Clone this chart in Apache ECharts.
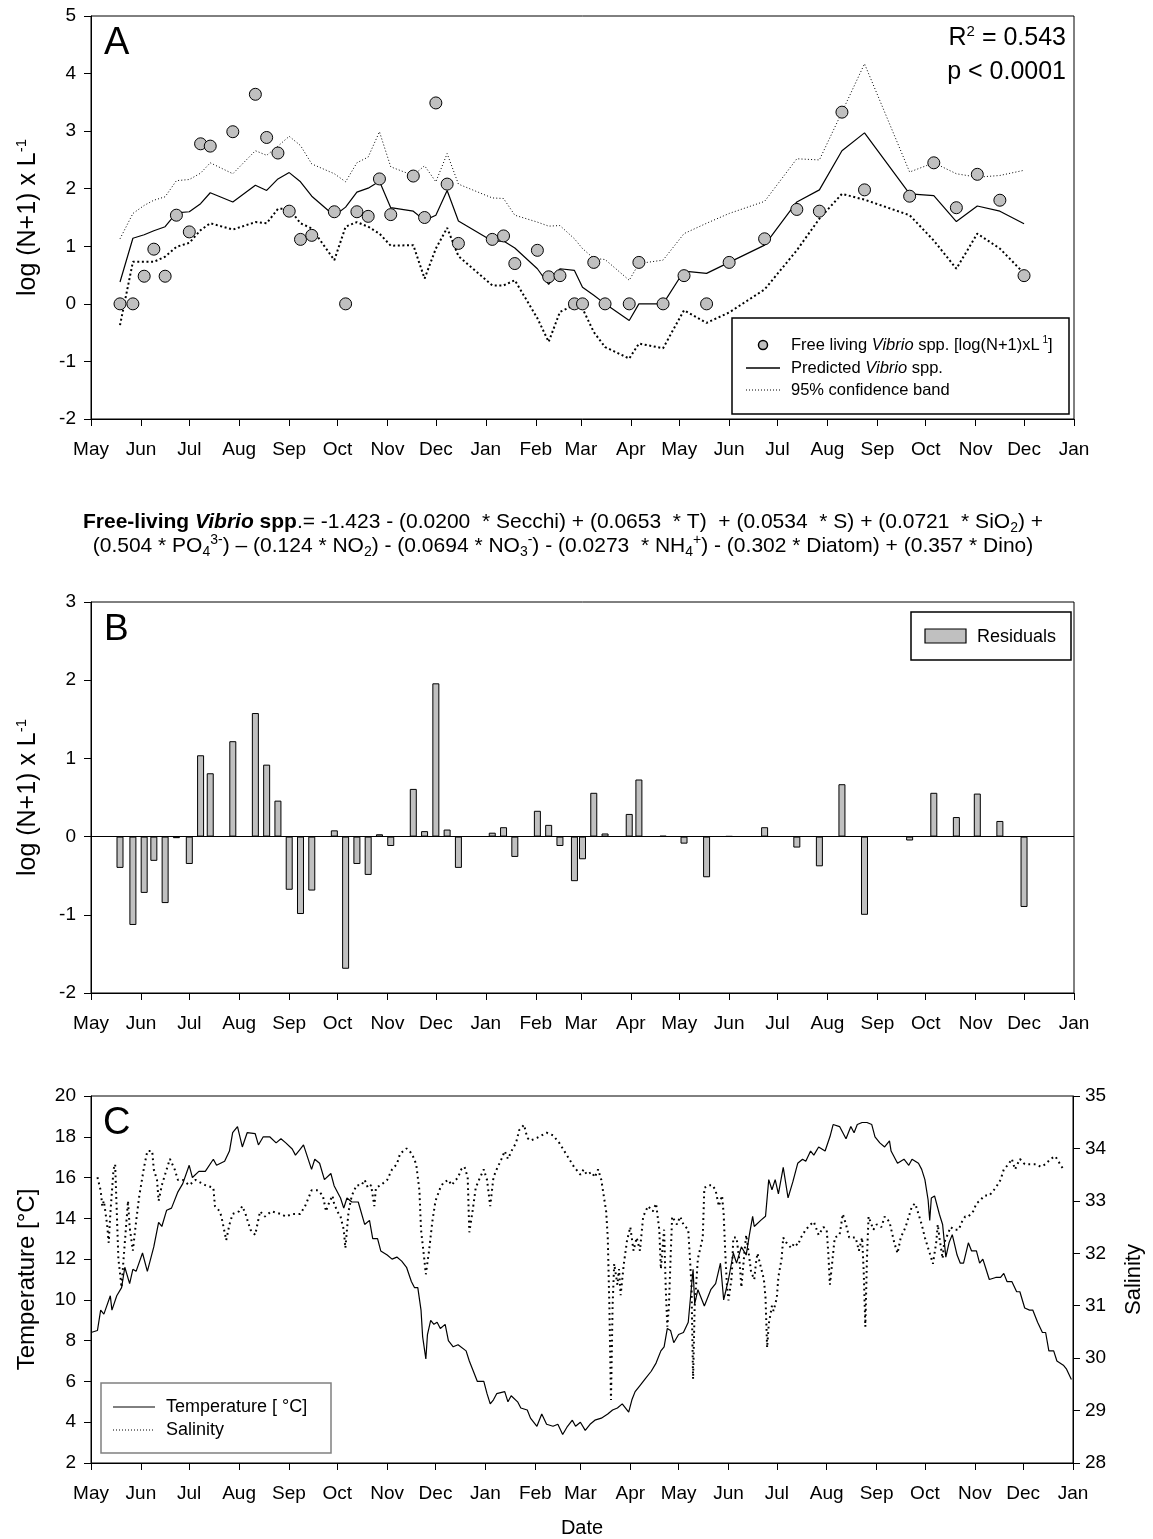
<!DOCTYPE html>
<html>
<head>
<meta charset="utf-8">
<script src="https://cdn.jsdelivr.net/npm/echarts@6/dist/echarts.min.js"></script>
<style>
html,body{margin:0;padding:0;background:#fff;}
#chart{width:1153px;height:1539px;}
</style>
</head>
<body>
<div id="chart"></div>
<script>
// ---------------- DATA ----------------
const monthNames = ['Jan','Feb','Mar','Apr','May','Jun','Jul','Aug','Sep','Oct','Nov','Dec'];
const axisStart = '2009-05-01';
const axisEnd = '2011-01-01';

const sampleDates = ['2009-05-19','2009-05-27','2009-06-03','2009-06-09','2009-06-16','2009-06-23','2009-07-01','2009-07-08','2009-07-14','2009-07-28','2009-08-11','2009-08-18','2009-08-25','2009-09-01','2009-09-08','2009-09-15','2009-09-29','2009-10-06','2009-10-13','2009-10-20','2009-10-27','2009-11-03','2009-11-17','2009-11-24','2009-12-01','2009-12-08','2009-12-15',
'2010-01-05','2010-01-12','2010-01-19','2010-02-02','2010-02-09','2010-02-16','2010-02-25','2010-03-02','2010-03-09','2010-03-16','2010-03-31','2010-04-06','2010-04-21','2010-05-04','2010-05-18','2010-06-01','2010-06-23','2010-07-13','2010-07-27','2010-08-10','2010-08-24','2010-09-21','2010-10-06','2010-10-20','2010-11-02','2010-11-16','2010-12-01'];

const observed = [0,0,0.48,0.95,0.48,1.54,1.25,2.78,2.74,2.99,3.64,2.89,2.62,1.61,1.12,1.19,1.6,0,1.6,1.52,2.17,1.55,2.22,1.5,3.49,2.08,1.05,
1.12,1.18,0.7,0.93,0.47,0.49,0,0,0.72,0,0,0.72,0,0.49,0,0.72,1.13,1.64,1.61,3.33,1.98,1.87,2.45,1.67,2.25,1.8,0.49];

const predicted = [0.38,1.14,1.2,1.27,1.34,1.58,1.6,1.74,1.93,1.77,2.06,1.97,2.17,2.28,2.12,1.87,1.53,1.68,1.94,2.01,2.13,1.67,1.61,1.45,1.54,1.97,1.44,
1.09,1.09,0.97,0.61,0.34,0.61,0.58,0.29,0.15,0.0,-0.29,0,0,0.57,0.53,0.72,1.02,1.77,1.98,2.66,2.97,1.91,1.88,1.43,1.7,1.61,1.39];

const upper95 = [1.13,1.57,1.71,1.8,1.86,2.14,2.16,2.27,2.45,2.26,2.66,2.58,2.74,2.91,2.75,2.43,2.26,2.12,2.45,2.55,2.99,2.38,2.23,2.4,2.12,2.61,2.08,
1.84,1.83,1.54,1.42,1.35,1.36,1.13,0.96,0.79,0.77,0.41,0.7,0.76,1.22,1.4,1.57,1.78,2.52,2.5,3.33,4.17,2.29,2.45,2.26,2.2,2.23,2.32];

const lower95 = [-0.37,0.73,0.73,0.73,0.82,0.99,1.06,1.28,1.4,1.29,1.42,1.4,1.65,1.65,1.4,1.31,0.76,1.34,1.42,1.34,1.22,1.01,1.02,0.44,0.96,1.32,0.83,
0.32,0.32,0.41,-0.25,-0.66,-0.14,-0.02,-0.08,-0.49,-0.75,-0.95,-0.69,-0.77,-0.11,-0.33,-0.15,0.25,0.93,1.48,1.91,1.81,1.54,1.1,0.61,1.22,0.96,0.53];

const residuals = [-0.40,-1.13,-0.72,-0.31,-0.85,-0.02,-0.35,1.04,0.81,1.22,1.58,0.92,0.46,-0.68,-0.99,-0.69,0.08,-1.69,-0.35,-0.49,0.03,-0.12,0.61,0.07,1.96,0.09,-0.40,
0.05,0.12,-0.26,0.33,0.15,-0.12,-0.57,-0.29,0.56,0.04,0.29,0.73,0.01,-0.09,-0.52,0.005,0.12,-0.14,-0.38,0.67,-1.0,-0.05,0.56,0.25,0.55,0.2,-0.9];

const tempData = [['2009-05-01',8.4],['2009-05-05',8.5],['2009-05-07',9.5],['2009-05-09',9.3],['2009-05-13',10.2],['2009-05-14',9.5],['2009-05-17',10.2],['2009-05-20',10.6],['2009-05-22',11.6],['2009-05-25',10.8],['2009-05-27',11.5],['2009-05-29',11.4],['2009-06-02',12.3],['2009-06-05',11.4],['2009-06-09',12.6],['2009-06-12',13.8],['2009-06-14',13.6],['2009-06-17',14.4],['2009-06-20',14.5],['2009-06-24',15.3],['2009-06-27',15.7],['2009-07-01',16.6],['2009-07-03',16.0],['2009-07-07',16.3],['2009-07-11',16.3],['2009-07-16',16.9],['2009-07-18',16.6],['2009-07-23',16.8],['2009-07-26',17.3],['2009-07-28',18.2],['2009-07-31',18.5],['2009-08-01',18.5],['2009-08-03',17.5],['2009-08-06',18.2],['2009-08-11',18.15],['2009-08-13',17.6],['2009-08-16',18.0],['2009-08-20',18.0],['2009-08-24',17.7],['2009-08-27',17.9],['2009-08-30',17.7],['2009-09-03',17.4],['2009-09-05',17.1],['2009-09-08',17.4],['2009-09-10',17.6],['2009-09-15',16.4],['2009-09-17',16.9],['2009-09-20',16.7],['2009-09-23',15.9],['2009-09-27',16.2],['2009-09-29',15.6],['2009-10-03',15.0],['2009-10-05',14.5],['2009-10-07',15.0],['2009-10-10',14.8],['2009-10-14',14.8],['2009-10-18',13.7],['2009-10-21',13.9],['2009-10-23',13.0],['2009-10-26',13.0],['2009-10-28',12.4],['2009-11-01',12.2],['2009-11-04',12.0],['2009-11-07',12.1],['2009-11-10',11.9],['2009-11-13',11.6],['2009-11-16',10.9],['2009-11-18',10.6],['2009-11-20',10.6],['2009-11-22',9.5],['2009-11-23',8.2],['2009-11-25',7.1],['2009-11-26',8.3],['2009-11-28',9.0],['2009-11-30',8.8],['2009-12-02',8.9],['2009-12-04',8.6],['2009-12-07',8.8],['2009-12-09',8.0],['2009-12-12',7.7],['2009-12-15',7.8],['2009-12-20',7.5],['2009-12-22',7.0],['2009-12-25',6.4],['2009-12-27',6.0],['2009-12-31',6.0],['2010-01-02',5.4],['2010-01-04',4.9],['2010-01-06',5.1],['2010-01-08',5.4],['2010-01-13',5.5],['2010-01-15',5.0],['2010-01-17',5.3],['2010-01-21',5.0],['2010-01-23',4.7],['2010-01-27',4.6],['2010-01-29',4.2],['2010-02-02',3.8],['2010-02-05',4.4],['2010-02-08',3.9],['2010-02-12',3.8],['2010-02-15',3.9],['2010-02-18',3.4],['2010-02-21',3.8],['2010-02-24',4.1],['2010-02-26',3.8],['2010-03-01',4.0],['2010-03-04',3.6],['2010-03-07',3.9],['2010-03-10',4.1],['2010-03-14',4.2],['2010-03-18',4.4],['2010-03-21',4.6],['2010-03-24',4.7],['2010-03-27',4.9],['2010-03-31',4.5],['2010-04-02',5.1],['2010-04-04',5.5],['2010-04-07',5.8],['2010-04-10',6.1],['2010-04-14',6.5],['2010-04-17',6.9],['2010-04-20',7.5],['2010-04-22',7.7],['2010-04-24',8.6],['2010-04-26',8.5],['2010-04-28',7.9],['2010-05-01',8.3],['2010-05-04',8.4],['2010-05-07',8.9],['2010-05-08',8.9],['2010-05-10',11.5],['2010-05-11',9.8],['2010-05-13',10.5],['2010-05-17',9.7],['2010-05-21',10.5],['2010-05-24',10.8],['2010-05-27',11.8],['2010-05-29',10.0],['2010-06-01',11.0],['2010-06-04',12.3],['2010-06-06',11.8],['2010-06-09',12.6],['2010-06-12',12.2],['2010-06-14',13.2],['2010-06-16',14.1],['2010-06-17',13.6],['2010-06-21',13.9],['2010-06-24',14.1],['2010-06-26',15.9],['2010-06-28',15.4],['2010-06-30',15.9],['2010-07-02',15.2],['2010-07-05',16.5],['2010-07-08',15.0],['2010-07-11',15.8],['2010-07-14',16.7],['2010-07-17',16.9],['2010-07-19',16.8],['2010-07-22',17.3],['2010-07-24',17.1],['2010-07-27',17.5],['2010-07-31',17.3],['2010-08-03',18.0],['2010-08-05',18.6],['2010-08-09',18.5],['2010-08-13',17.9],['2010-08-16',18.5],['2010-08-18',18.2],['2010-08-20',18.6],['2010-08-23',18.7],['2010-08-26',18.7],['2010-08-29',18.6],['2010-08-31',18.0],['2010-09-03',17.7],['2010-09-06',17.5],['2010-09-09',17.8],['2010-09-10',17.3],['2010-09-14',16.7],['2010-09-16',16.8],['2010-09-18',16.9],['2010-09-21',16.6],['2010-09-23',16.9],['2010-09-27',16.7],['2010-09-29',16.4],['2010-10-01',15.9],['2010-10-03',14.9],['2010-10-04',13.9],['2010-10-05',15.0],['2010-10-07',15.1],['2010-10-10',14.2],['2010-10-12',13.7],['2010-10-14',12.1],['2010-10-16',12.8],['2010-10-18',13.2],['2010-10-21',12.2],['2010-10-23',11.8],['2010-10-25',11.8],['2010-10-28',12.8],['2010-10-30',12.4],['2010-11-02',12.4],['2010-11-04',11.8],['2010-11-06',12.0],['2010-11-08',11.5],['2010-11-10',11.0],['2010-11-14',11.1],['2010-11-17',11.1],['2010-11-19',11.3],['2010-11-21',10.9],['2010-11-24',10.9],['2010-11-27',10.4],['2010-11-29',10.4],['2010-12-02',9.6],['2010-12-05',9.5],['2010-12-07',9.5],['2010-12-10',8.9],['2010-12-13',8.4],['2010-12-15',8.4],['2010-12-17',7.5],['2010-12-20',7.5],['2010-12-22',7.0],['2010-12-26',6.8],['2010-12-28',6.6],['2010-12-31',6.1]];

const salData = [['2009-05-05',33.45],['2009-05-07',33.2],['2009-05-08',32.9],['2009-05-09',33.0],['2009-05-11',32.55],['2009-05-12',32.2],['2009-05-13',32.75],['2009-05-15',33.6],['2009-05-16',33.7],['2009-05-17',32.8],['2009-05-18',31.9],['2009-05-20',31.35],['2009-05-21',31.8],['2009-05-22',32.2],['2009-05-24',33.0],['2009-05-25',32.5],['2009-05-27',32.05],['2009-05-29',32.6],['2009-05-31',33.1],['2009-06-03',33.65],['2009-06-05',33.95],['2009-06-08',33.95],['2009-06-09',33.6],['2009-06-11',33.4],['2009-06-12',33.0],['2009-06-14',33.3],['2009-06-16',33.5],['2009-06-19',33.8],['2009-06-22',33.6],['2009-06-24',33.4],['2009-06-27',33.4],['2009-07-01',33.3],['2009-07-05',33.4],['2009-07-08',33.35],['2009-07-11',33.3],['2009-07-16',33.25],['2009-07-17',32.9],['2009-07-20',32.8],['2009-07-21',32.7],['2009-07-23',32.4],['2009-07-24',32.25],['2009-07-26',32.55],['2009-07-28',32.75],['2009-08-01',32.8],['2009-08-03',32.9],['2009-08-05',32.75],['2009-08-08',32.45],['2009-08-11',32.35],['2009-08-14',32.8],['2009-08-17',32.7],['2009-08-21',32.8],['2009-08-27',32.75],['2009-08-30',32.7],['2009-09-03',32.75],['2009-09-08',32.75],['2009-09-11',32.9],['2009-09-15',33.2],['2009-09-19',33.2],['2009-09-22',33.1],['2009-09-24',32.8],['2009-09-25',32.9],['2009-09-28',33.1],['2009-09-29',32.95],['2009-10-01',32.8],['2009-10-03',32.7],['2009-10-05',32.45],['2009-10-06',32.1],['2009-10-08',32.8],['2009-10-10',33.1],['2009-10-13',33.3],['2009-10-16',33.3],['2009-10-18',33.4],['2009-10-20',33.25],['2009-10-22',33.3],['2009-10-24',32.9],['2009-10-25',33.25],['2009-10-28',33.3],['2009-11-01',33.4],['2009-11-04',33.6],['2009-11-07',33.7],['2009-11-09',33.9],['2009-11-11',33.95],['2009-11-13',34.0],['2009-11-15',33.95],['2009-11-17',33.85],['2009-11-19',33.7],['2009-11-21',33.2],['2009-11-22',32.45],['2009-11-24',31.9],['2009-11-25',31.6],['2009-11-27',32.05],['2009-11-29',32.6],['2009-12-01',33.0],['2009-12-04',33.25],['2009-12-06',33.35],['2009-12-09',33.4],['2009-12-11',33.3],['2009-12-15',33.45],['2009-12-17',33.6],['2009-12-19',33.65],['2009-12-21',33.45],['2009-12-22',32.4],['2009-12-24',32.8],['2009-12-26',33.25],['2009-12-28',33.4],['2009-12-31',33.6],['2010-01-02',33.4],['2010-01-04',32.9],['2010-01-06',33.45],['2010-01-08',33.6],['2010-01-11',33.8],['2010-01-13',33.95],['2010-01-15',33.8],['2010-01-18',34.0],['2010-01-20',34.1],['2010-01-22',34.35],['2010-01-25',34.45],['2010-01-27',34.2],['2010-01-29',34.15],['2010-02-02',34.2],['2010-02-08',34.3],['2010-02-12',34.25],['2010-02-16',34.1],['2010-02-19',33.95],['2010-02-22',33.8],['2010-02-25',33.65],['2010-03-01',33.5],['2010-03-03',33.6],['2010-03-05',33.5],['2010-03-08',33.55],['2010-03-10',33.45],['2010-03-12',33.6],['2010-03-14',33.4],['2010-03-15',33.2],['2010-03-17',32.8],['2010-03-18',32.3],['2010-03-19',31.0],['2010-03-20',29.2],['2010-03-21',31.0],['2010-03-22',31.8],['2010-03-24',31.4],['2010-03-25',31.7],['2010-03-26',31.2],['2010-03-28',31.8],['2010-03-30',32.25],['2010-04-01',32.5],['2010-04-03',32.05],['2010-04-05',32.3],['2010-04-07',32.05],['2010-04-09',32.7],['2010-04-12',32.9],['2010-04-15',32.8],['2010-04-17',32.95],['2010-04-19',32.45],['2010-04-20',31.7],['2010-04-22',32.45],['2010-04-23',31.35],['2010-04-24',30.6],['2010-04-25',31.0],['2010-04-26',31.9],['2010-04-27',32.7],['2010-04-30',32.55],['2010-05-02',32.7],['2010-05-04',32.55],['2010-05-07',32.45],['2010-05-09',31.4],['2010-05-10',29.6],['2010-05-11',31.0],['2010-05-13',31.9],['2010-05-14',31.9],['2010-05-16',32.3],['2010-05-17',33.25],['2010-05-20',33.3],['2010-05-22',33.3],['2010-05-24',33.2],['2010-05-26',32.9],['2010-05-28',33.1],['2010-05-29',32.75],['2010-05-30',32.0],['2010-05-31',31.4],['2010-06-01',31.1],['2010-06-03',31.55],['2010-06-04',32.3],['2010-06-06',32.3],['2010-06-08',31.8],['2010-06-09',31.35],['2010-06-11',32.05],['2010-06-12',32.35],['2010-06-14',31.9],['2010-06-15',31.65],['2010-06-17',31.5],['2010-06-18',31.8],['2010-06-19',32.0],['2010-06-21',31.75],['2010-06-23',31.5],['2010-06-24',31.15],['2010-06-25',30.2],['2010-06-26',30.65],['2010-06-28',31.0],['2010-06-29',30.9],['2010-07-01',31.15],['2010-07-02',31.55],['2010-07-04',31.9],['2010-07-05',32.3],['2010-07-07',32.2],['2010-07-10',32.1],['2010-07-12',32.2],['2010-07-14',32.15],['2010-07-16',32.3],['2010-07-19',32.45],['2010-07-22',32.55],['2010-07-24',32.6],['2010-07-27',32.35],['2010-07-30',32.5],['2010-08-01',32.45],['2010-08-02',32.0],['2010-08-03',31.4],['2010-08-05',32.0],['2010-08-06',32.3],['2010-08-09',32.35],['2010-08-11',32.75],['2010-08-13',32.55],['2010-08-15',32.3],['2010-08-17',32.3],['2010-08-19',32.3],['2010-08-21',32.05],['2010-08-23',32.3],['2010-08-24',31.65],['2010-08-25',30.6],['2010-08-26',31.9],['2010-08-27',32.7],['2010-08-30',32.45],['2010-09-01',32.55],['2010-09-04',32.5],['2010-09-06',32.7],['2010-09-09',32.6],['2010-09-12',32.2],['2010-09-14',32.0],['2010-09-16',32.3],['2010-09-19',32.5],['2010-09-21',32.7],['2010-09-23',32.9],['2010-09-25',32.95],['2010-09-27',32.75],['2010-09-29',32.55],['2010-10-01',32.3],['2010-10-02',32.3],['2010-10-04',32.0],['2010-10-06',31.8],['2010-10-08',32.2],['2010-10-09',32.55],['2010-10-10',32.3],['2010-10-12',31.9],['2010-10-13',32.2],['2010-10-15',32.35],['2010-10-17',32.5],['2010-10-19',32.45],['2010-10-22',32.45],['2010-10-24',32.6],['2010-10-26',32.7],['2010-10-28',32.7],['2010-10-31',32.8],['2010-11-02',32.95],['2010-11-04',33.0],['2010-11-07',33.1],['2010-11-10',33.1],['2010-11-14',33.25],['2010-11-17',33.4],['2010-11-19',33.6],['2010-11-22',33.7],['2010-11-24',33.8],['2010-11-26',33.6],['2010-11-29',33.8],['2010-12-02',33.7],['2010-12-05',33.7],['2010-12-09',33.7],['2010-12-12',33.65],['2010-12-15',33.7],['2010-12-18',33.8],['2010-12-21',33.85],['2010-12-24',33.7],['2010-12-26',33.6]];

// ---------------- BUILD ----------------
function ts(s){ const p = s.split('-').map(Number); return Date.UTC(p[0], p[1]-1, p[2]); }
const xMin = ts(axisStart), xMax = ts(axisEnd);
const monthTicks = [];
(function(){ let y = 2009, m = 4; while (true) { const v = Date.UTC(y, m, 1); monthTicks.push(v); if (v >= xMax) break; m++; if (m > 11) { m = 0; y++; } } })();

const zip = (d, v) => d.map((s, i) => [ts(s), v[i]]);
const pairs = arr => arr.map(p => [ts(p[0]), p[1]]);

const FONT = "'Liberation Sans', Arial, Helvetica, sans-serif";
const black = '#000';

function xAxisDef(gridIndex, withName){
  const a = {
    type: 'value', gridIndex: gridIndex, min: xMin, max: xMax,
    axisLine: { show: true, onZero: false, lineStyle: { color: black, width: 1 } },
    axisTick: { show: true, customValues: monthTicks, length: 7, lineStyle: { color: black } },
    axisLabel: { customValues: monthTicks, showMinLabel: true, showMaxLabel: true,
      formatter: v => monthNames[new Date(v).getUTCMonth()], color: black, fontSize: 19, fontFamily: FONT, margin: 21 },
    splitLine: { show: false }
  };
  if (withName) {
    a.name = 'Date'; a.nameLocation = 'middle'; a.nameGap = 55;
    a.nameTextStyle = { color: black, fontSize: 20, fontFamily: FONT };
  }
  return a;
}
function yAxisDef(gridIndex, min, max, interval, name, extra){
  const a = {
    type: 'value', gridIndex: gridIndex, min: min, max: max, interval: interval,
    axisLine: { show: true, lineStyle: { color: black, width: 1 } },
    axisTick: { show: true, length: 7, lineStyle: { color: black } },
    axisLabel: { color: black, fontSize: 19, fontFamily: FONT, margin: 15 },
    splitLine: { show: false },
    name: name, nameLocation: 'middle', nameGap: 49, nameRotate: 90,
    nameTextStyle: { color: black, fontSize: 25, fontFamily: FONT, lineHeight: 28,
      rich: { sup: { fontSize: 15, fontFamily: FONT, color: black, verticalAlign: 'top', lineHeight: 16 } } }
  };
  return Object.assign(a, extra || {});
}

const gridCommon = { left: 91, right: 79, show: true, borderColor: black, borderWidth: 1, backgroundColor: 'transparent' };

const option = {
  animation: false,
  backgroundColor: '#fff',
  grid: [
    Object.assign({ top: 16, height: 403 }, gridCommon),
    Object.assign({ top: 602, height: 391 }, gridCommon),
    Object.assign({ top: 1096, height: 367 }, gridCommon)
  ],
  xAxis: [ xAxisDef(0, false), xAxisDef(1, false), xAxisDef(2, true) ],
  yAxis: [
    yAxisDef(0, -2, 5, 1, 'log (N+1) x L{sup|-1}'),
    yAxisDef(1, -2, 3, 1, 'log (N+1) x L{sup|-1}'),
    yAxisDef(2, 2, 20, 2, 'Temperature [°C]', { nameGap: 52, nameTextStyle: { color: black, fontSize: 24, fontFamily: FONT } }),
    yAxisDef(2, 28, 35, 1, 'Salinity', { position: 'right', nameGap: 50,
      nameTextStyle: { color: black, fontSize: 22, fontFamily: FONT },
      axisLabel: { color: black, fontSize: 19, fontFamily: FONT, margin: 12 } })
  ],
  series: [
    { name: 'upper', type: 'line', xAxisIndex: 0, yAxisIndex: 0, data: zip(sampleDates, upper95),
      symbol: 'none', lineStyle: { color: black, width: 1, type: [1, 2.2] }, z: 2 },
    { name: 'lower', type: 'line', xAxisIndex: 0, yAxisIndex: 0, data: zip(sampleDates, lower95),
      symbol: 'none', lineStyle: { color: black, width: 2, type: [2, 2.6] }, z: 2 },
    { name: 'predicted', type: 'line', xAxisIndex: 0, yAxisIndex: 0, data: zip(sampleDates, predicted),
      symbol: 'none', lineStyle: { color: black, width: 1.2 }, z: 3 },
    { name: 'observed', type: 'scatter', xAxisIndex: 0, yAxisIndex: 0, data: zip(sampleDates, observed),
      symbol: 'circle', symbolSize: 12, itemStyle: { color: '#c0c0c0', borderColor: black, borderWidth: 1, opacity: 1 }, z: 5 },
    { name: 'Residuals', type: 'bar', xAxisIndex: 1, yAxisIndex: 1, data: zip(sampleDates, residuals),
      barWidth: 7, itemStyle: { color: '#c0c0c0', borderColor: black, borderWidth: 1 },
      markLine: { silent: true, symbol: 'none', label: { show: false }, lineStyle: { color: black, width: 1.2, type: 'solid' }, data: [{ yAxis: 0 }] }, z: 2 },
    { name: 'Temperature', type: 'line', xAxisIndex: 2, yAxisIndex: 2, data: pairs(tempData),
      symbol: 'none', lineStyle: { color: black, width: 1.2 }, z: 3 },
    { name: 'Salinity', type: 'line', xAxisIndex: 2, yAxisIndex: 3, data: pairs(salData),
      symbol: 'none', lineStyle: { color: black, width: 2, type: [1.8, 3.6] }, z: 2 }
  ],
  graphic: [
    // panel letters
    { type: 'text', x: 104, y: 44, style: { text: 'A', fontSize: 38, fontFamily: FONT, fill: black, verticalAlign: 'middle' } },
    { type: 'text', x: 104, y: 630, style: { text: 'B', fontSize: 37, fontFamily: FONT, fill: black, verticalAlign: 'middle' } },
    { type: 'text', x: 103, y: 1124, style: { text: 'C', fontSize: 38, fontFamily: FONT, fill: black, verticalAlign: 'middle' } },
    // R2 text
    { type: 'text', x: 1066, y: 38, style: { text: 'R{sup|2} = 0.543', fontSize: 25, fontFamily: FONT, fill: black, align: 'right', verticalAlign: 'middle', lineHeight: 28,
        rich: { sup: { fontSize: 15, fontFamily: FONT, fill: black, verticalAlign: 'top', lineHeight: 16 } } } },
    { type: 'text', x: 1066, y: 72, style: { text: 'p < 0.0001', fontSize: 25, fontFamily: FONT, fill: black, align: 'right', verticalAlign: 'middle' } },
    // legend A
    { type: 'rect', shape: { x: 732, y: 318, width: 337, height: 96 }, style: { fill: '#fff', stroke: black, lineWidth: 1.5 }, z: 10 },
    { type: 'circle', shape: { cx: 763, cy: 345, r: 4.5 }, style: { fill: '#c0c0c0', stroke: black, lineWidth: 1.5 }, z: 11 },
    { type: 'text', x: 791, y: 345, z: 11, style: { text: 'Free living {i|Vibrio} spp. [log(N+1)xL{sup| 1}]', fontSize: 16.5, fontFamily: FONT, fill: black, verticalAlign: 'middle', lineHeight: 20,
        rich: { i: { fontStyle: 'italic', fontSize: 16.5, fontFamily: FONT, fill: black, lineHeight: 20 }, sup: { fontSize: 10, fontFamily: FONT, fill: black, verticalAlign: 'top', lineHeight: 11 } } } },
    { type: 'line', shape: { x1: 746, y1: 368, x2: 780, y2: 368 }, style: { stroke: black, lineWidth: 1.5 }, z: 11 },
    { type: 'text', x: 791, y: 368, z: 11, style: { text: 'Predicted {i|Vibrio} spp.', fontSize: 16.5, fontFamily: FONT, fill: black, verticalAlign: 'middle',
        rich: { i: { fontStyle: 'italic', fontSize: 16.5, fontFamily: FONT, fill: black } } } },
    { type: 'line', shape: { x1: 746, y1: 390, x2: 780, y2: 390 }, style: { stroke: black, lineWidth: 1, lineDash: [1, 2] }, z: 11 },
    { type: 'text', x: 791, y: 390, z: 11, style: { text: '95% confidence band', fontSize: 16.5, fontFamily: FONT, fill: black, verticalAlign: 'middle' } },
    // equation
    { type: 'text', x: 563, y: 522, style: { text: '{b|Free-living }{bi|Vibrio}{b| spp}.= -1.423 - (0.0200  * Secchi) + (0.0653  * T)  + (0.0534  * S) + (0.0721  * SiO{sub|2}) +',
        fontSize: 21, fontFamily: FONT, fill: black, align: 'center', verticalAlign: 'middle', lineHeight: 26,
        rich: { b: { fontWeight: 'bold', fontSize: 21, fontFamily: FONT, fill: black, lineHeight: 26 }, bi: { fontWeight: 'bold', fontStyle: 'italic', fontSize: 21, fontFamily: FONT, fill: black, lineHeight: 26 },
                sub: { fontSize: 14, fontFamily: FONT, fill: black, verticalAlign: 'bottom', lineHeight: 15 } } } },
    { type: 'text', x: 563, y: 546, style: { text: '(0.504 * PO{sub|4}{sup|3-}) \u2013 (0.124 * NO{sub|2}) - (0.0694 * NO{sub|3}{sup|-}) - (0.0273  * NH{sub|4}{sup|+}) - (0.302 * Diatom) + (0.357 * Dino)',
        fontSize: 21, fontFamily: FONT, fill: black, align: 'center', verticalAlign: 'middle', lineHeight: 26,
        rich: { sub: { fontSize: 14, fontFamily: FONT, fill: black, verticalAlign: 'bottom', lineHeight: 15 }, sup: { fontSize: 14, fontFamily: FONT, fill: black, verticalAlign: 'top', lineHeight: 15 } } } },
    // legend B
    { type: 'rect', shape: { x: 911, y: 612, width: 160, height: 48 }, style: { fill: '#fff', stroke: black, lineWidth: 1.5 }, z: 10 },
    { type: 'rect', shape: { x: 925, y: 629, width: 41, height: 14 }, style: { fill: '#c0c0c0', stroke: black, lineWidth: 1.2 }, z: 11 },
    { type: 'text', x: 977, y: 637, z: 11, style: { text: 'Residuals', fontSize: 18, fontFamily: FONT, fill: black, verticalAlign: 'middle' } },
    // legend C
    { type: 'rect', shape: { x: 101, y: 1383, width: 230, height: 70 }, style: { fill: '#fff', stroke: '#808080', lineWidth: 1.5 }, z: 10 },
    { type: 'line', shape: { x1: 113, y1: 1407, x2: 155, y2: 1407 }, style: { stroke: black, lineWidth: 1 }, z: 11 },
    { type: 'text', x: 166, y: 1407, z: 11, style: { text: 'Temperature [ °C]', fontSize: 18, fontFamily: FONT, fill: black, verticalAlign: 'middle' } },
    { type: 'line', shape: { x1: 113, y1: 1430, x2: 155, y2: 1430 }, style: { stroke: black, lineWidth: 1, lineDash: [1, 2] }, z: 11 },
    { type: 'text', x: 166, y: 1430, z: 11, style: { text: 'Salinity', fontSize: 18, fontFamily: FONT, fill: black, verticalAlign: 'middle' } }
  ]
};

const chart = echarts.init(document.getElementById('chart'), null, { renderer: 'canvas' });
chart.setOption(option);
</script>
</body>
</html>
